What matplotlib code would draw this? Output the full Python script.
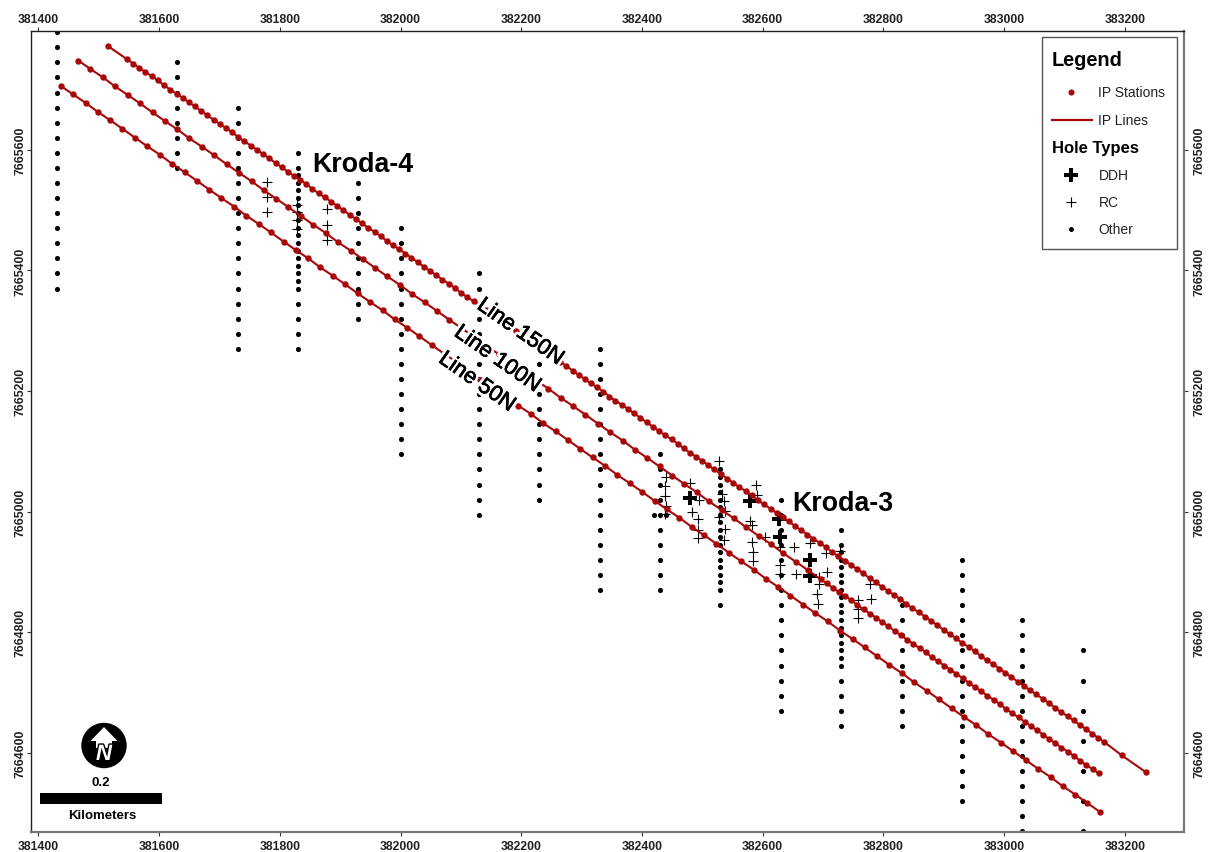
import matplotlib
matplotlib.use('Agg')
import matplotlib.pyplot as plt
import matplotlib.patheffects as pe
from matplotlib.lines import Line2D
from matplotlib.patches import Circle, Polygon, Rectangle
from matplotlib.transforms import Affine2D

plt.rcParams['font.family'] = ['Liberation Sans', 'DejaVu Sans']

x_ticks = [381400, 381600, 381800, 382000, 382200, 382400, 382600, 382800, 383000, 383200]
y_ticks = [7664600, 7664800, 7665000, 7665200, 7665400, 7665600]

# IP stations
line150_x = [381515,
             381547, 381557, 381567, 381577, 381588, 381598, 381608, 381618, 381629, 381639, 381649, 381659,
             381670, 381680, 381690, 381700, 381711, 381721, 381731, 381741, 381752, 381762, 381772, 381782,
             381793, 381803, 381813, 381823, 381834, 381844, 381854, 381864, 381875, 381885, 381895, 381905,
             381916, 381926, 381936, 381946, 381957, 381967, 381977, 381987, 381998, 382008, 382018, 382028,
             382039, 382049, 382059, 382069, 382080, 382090, 382100, 382110, 382121, 382131, 382141, 382151,
             382162, 382172, 382182, 382192, 382203, 382213, 382223, 382233, 382244, 382254, 382264, 382274,
             382285, 382295, 382305, 382315, 382326, 382336, 382346, 382356, 382367, 382377, 382387, 382397,
             382408, 382418, 382428, 382438, 382449, 382459, 382469, 382479, 382490, 382500, 382510, 382520,
             382531, 382541, 382551, 382561, 382572, 382582, 382592, 382602, 382613, 382623, 382633, 382643,
             382654, 382664, 382674, 382684, 382695, 382705, 382715, 382725, 382736, 382746, 382756, 382766,
             382777, 382787, 382797, 382807, 382818, 382828, 382838, 382848, 382859, 382869, 382879, 382889,
             382900, 382910, 382920, 382930, 382941, 382951, 382961, 382971, 382982, 382992, 383002, 383012,
             383023, 383033, 383043, 383053, 383064, 383074, 383084, 383094, 383105, 383115, 383125, 383135,
             383146, 383156, 383166, 383195, 383235]
line150_y = [7665772,
             7665750, 7665743, 7665736, 7665729, 7665722, 7665715, 7665707, 7665700, 7665693, 7665686, 7665679, 7665672,
             7665664, 7665657, 7665650, 7665643, 7665636, 7665629, 7665621, 7665614, 7665607, 7665600, 7665593, 7665586,
             7665578, 7665571, 7665564, 7665557, 7665550, 7665543, 7665535, 7665528, 7665521, 7665514, 7665507, 7665500,
             7665492, 7665485, 7665478, 7665471, 7665464, 7665457, 7665449, 7665442, 7665435, 7665428, 7665421, 7665414,
             7665406, 7665399, 7665392, 7665385, 7665378, 7665371, 7665363, 7665356, 7665349, 7665342, 7665335, 7665328,
             7665320, 7665313, 7665306, 7665299, 7665292, 7665285, 7665277, 7665270, 7665263, 7665256, 7665249, 7665242,
             7665234, 7665227, 7665220, 7665213, 7665206, 7665199, 7665191, 7665184, 7665177, 7665170, 7665163, 7665156,
             7665148, 7665141, 7665134, 7665127, 7665120, 7665113, 7665105, 7665098, 7665091, 7665084, 7665077, 7665070,
             7665062, 7665055, 7665048, 7665041, 7665034, 7665027, 7665019, 7665012, 7665005, 7664998, 7664991, 7664984,
             7664976, 7664969, 7664962, 7664955, 7664948, 7664941, 7664933, 7664926, 7664919, 7664912, 7664905, 7664898,
             7664890, 7664883, 7664876, 7664869, 7664862, 7664855, 7664847, 7664840, 7664833, 7664826, 7664819, 7664812,
             7664804, 7664797, 7664790, 7664783, 7664776, 7664769, 7664761, 7664754, 7664747, 7664740, 7664733, 7664726,
             7664718, 7664711, 7664704, 7664697, 7664690, 7664683, 7664675, 7664668, 7664661, 7664654, 7664647, 7664640,
             7664632, 7664625, 7664618, 7664596, 7664568]

line100_x = [381466, 381486, 381507, 381527, 381548, 381568, 381589, 381609, 381630, 381650, 381671, 381691,
             381712, 381732, 381753, 381773, 381794, 381814, 381835, 381855, 381876, 381896, 381917, 381937,
             381958, 381978, 381999, 382019, 382040, 382060, 382081, 382101, 382122, 382142, 382163, 382183,
             382204, 382224, 382245, 382265, 382286, 382306, 382327, 382347, 382368, 382388, 382409, 382429,
             382450, 382470, 382491, 382511, 382532, 382552, 382573, 382593, 382614, 382634, 382655, 382675,
             382696, 382706, 382716, 382726, 382737, 382747, 382757, 382767, 382778, 382788, 382798, 382808,
             382819, 382829, 382839, 382849, 382860, 382870, 382880, 382890, 382901, 382911, 382921, 382931,
             382942, 382952, 382962, 382972, 382983, 382993, 383003, 383013, 383024, 383034, 383044, 383054,
             383065, 383075, 383085, 383095, 383106, 383116, 383126, 383136, 383147, 383157]
line100_y = [7665748, 7665734, 7665720, 7665705, 7665691, 7665677, 7665662, 7665648, 7665634, 7665619, 7665605, 7665591,
             7665576, 7665562, 7665548, 7665533, 7665519, 7665505, 7665490, 7665476, 7665462, 7665447, 7665433, 7665419,
             7665404, 7665390, 7665376, 7665361, 7665347, 7665333, 7665318, 7665304, 7665290, 7665275, 7665261, 7665247,
             7665232, 7665218, 7665204, 7665189, 7665175, 7665161, 7665146, 7665132, 7665118, 7665103, 7665089, 7665075,
             7665060, 7665046, 7665032, 7665017, 7665003, 7664989, 7664974, 7664960, 7664946, 7664931, 7664917, 7664903,
             7664888, 7664881, 7664874, 7664867, 7664860, 7664853, 7664845, 7664838, 7664831, 7664824, 7664817, 7664810,
             7664802, 7664795, 7664788, 7664781, 7664774, 7664767, 7664759, 7664752, 7664745, 7664738, 7664731, 7664724,
             7664716, 7664709, 7664702, 7664695, 7664688, 7664681, 7664673, 7664666, 7664659, 7664652, 7664645, 7664638,
             7664630, 7664623, 7664616, 7664609, 7664602, 7664595, 7664587, 7664580, 7664573, 7664566]

line50_x = [381437, 381457, 381478, 381498, 381519, 381539, 381560, 381580, 381601, 381621, 381642, 381662,
            381683, 381703, 381724, 381744, 381765, 381785, 381806, 381826, 381847, 381867, 381888, 381908,
            381929, 381949, 381970, 381990, 382011, 382031, 382052, 382072, 382093, 382113, 382134, 382154,
            382175, 382195, 382216, 382236, 382257, 382277, 382298, 382318, 382339, 382359, 382380, 382400,
            382421, 382441, 382462, 382482, 382503, 382523, 382544, 382564, 382585, 382605, 382626, 382646,
            382667, 382687, 382708, 382728, 382749, 382769, 382790, 382810, 382831, 382851, 382872, 382892,
            382913, 382933, 382954, 382974, 382995, 383015, 383036, 383056, 383077, 383097, 383118, 383138,
            383159]
line50_y = [7665706, 7665692, 7665678, 7665663, 7665649, 7665635, 7665620, 7665606, 7665592, 7665577, 7665563, 7665549,
            7665534, 7665520, 7665506, 7665491, 7665477, 7665463, 7665448, 7665434, 7665420, 7665405, 7665391, 7665377,
            7665362, 7665348, 7665334, 7665319, 7665305, 7665291, 7665276, 7665262, 7665248, 7665233, 7665219, 7665205,
            7665190, 7665176, 7665162, 7665147, 7665133, 7665119, 7665104, 7665090, 7665076, 7665061, 7665047, 7665033,
            7665018, 7665004, 7664990, 7664975, 7664961, 7664947, 7664932, 7664918, 7664904, 7664889, 7664875, 7664861,
            7664846, 7664832, 7664818, 7664803, 7664789, 7664775, 7664760, 7664746, 7664732, 7664717, 7664703, 7664689,
            7664674, 7664660, 7664646, 7664631, 7664617, 7664603, 7664588, 7664574, 7664560, 7664545, 7664531, 7664517,
            7664502]

# "Other" holes, one northing list per drill section
other_sections = [381430, 381630, 381730, 381830, 381930, 382000, 382130, 382230, 382330,
                  382430, 382530, 382630, 382730, 382830, 382930, 383030, 383130]
other_northings = [
    [7665795, 7665770, 7665745, 7665720, 7665695, 7665670, 7665645, 7665620, 7665595, 7665570, 7665545, 7665520,
     7665495, 7665470, 7665445, 7665420, 7665395, 7665370],
    [7665745, 7665720, 7665695, 7665670, 7665645, 7665620, 7665595, 7665570],
    [7665670, 7665645, 7665620, 7665595, 7665570, 7665545, 7665520, 7665495, 7665470, 7665445, 7665420, 7665395,
     7665370, 7665345, 7665320, 7665295, 7665270],
    [7665595, 7665570, 7665558, 7665545, 7665533, 7665520, 7665508, 7665495, 7665483, 7665470, 7665458, 7665445,
     7665433, 7665420, 7665408, 7665395, 7665383, 7665370, 7665345, 7665320, 7665295, 7665270],
    [7665545, 7665520, 7665495, 7665470, 7665445, 7665420, 7665395, 7665370, 7665345, 7665320],
    [7665470, 7665445, 7665420, 7665395, 7665370, 7665345, 7665320, 7665295, 7665270, 7665245, 7665220, 7665195,
     7665170, 7665145, 7665120, 7665095],
    [7665395, 7665370, 7665345, 7665320, 7665295, 7665270, 7665245, 7665220, 7665195, 7665170, 7665145, 7665120,
     7665095, 7665070, 7665045, 7665020, 7664995],
    [7665245, 7665220, 7665195, 7665170, 7665145, 7665120, 7665095, 7665070, 7665045, 7665020],
    [7665270, 7665245, 7665220, 7665195, 7665170, 7665145, 7665120, 7665095, 7665070, 7665045, 7665020, 7664995,
     7664970, 7664945, 7664920, 7664895, 7664870],
    [7665095, 7665070, 7665045, 7665020, 7664995, 7664970, 7664945, 7664920, 7664895, 7664870],
    [7665070, 7665058, 7665045, 7665033, 7665020, 7665008, 7664995, 7664983, 7664970, 7664958, 7664945, 7664933,
     7664920, 7664908, 7664895, 7664883, 7664870, 7664845],
    [7665020, 7664995, 7664970, 7664945, 7664920, 7664895, 7664870, 7664845, 7664820, 7664795, 7664770, 7664745,
     7664720, 7664695, 7664670],
    [7664970, 7664945, 7664933, 7664920, 7664908, 7664895, 7664883, 7664870, 7664858, 7664845, 7664833, 7664820,
     7664808, 7664795, 7664783, 7664770, 7664758, 7664745, 7664720, 7664695, 7664670, 7664645],
    [7664845, 7664820, 7664795, 7664770, 7664745, 7664720, 7664695, 7664670, 7664645],
    [7664920, 7664895, 7664870, 7664845, 7664820, 7664795, 7664770, 7664745, 7664720, 7664695, 7664670, 7664645,
     7664620, 7664595, 7664570, 7664545, 7664520],
    [7664820, 7664795, 7664770, 7664745, 7664720, 7664695, 7664670, 7664645, 7664620, 7664595, 7664570, 7664545,
     7664520, 7664495, 7664470],
    [7664770, 7664720, 7664670, 7664620, 7664570, 7664520, 7664470],
]
other_extra_x = [382420, 382440]
other_extra_y = [7664995, 7664995]

rc_x = [381778, 381778, 381778, 381878, 381878, 381878, 381828, 381828, 381828, 381828,
        382439, 382438, 382438, 382439, 382438, 382479, 382494, 382483, 382493, 382493, 382493,
        382528, 382532, 382536, 382537, 382528, 382537, 382536,
        382589, 382590, 382579, 382583, 382604, 382582, 382584, 382584,
        382652, 382679, 382705, 382707, 382655, 382628, 382628, 382628,
        382694, 382694, 382690, 382692, 382728, 382778, 382779, 382758, 382758, 382758]
rc_y = [7665546, 7665522, 7665497, 7665502, 7665476, 7665451, 7665509, 7665497, 7665484, 7665469,
        7665057, 7665042, 7665026, 7665009, 7664996, 7665048, 7665020, 7664999, 7664988, 7664970, 7664957,
        7665084, 7665029, 7665017, 7665002, 7664991, 7664971, 7664953,
        7665044, 7665028, 7664985, 7664978, 7664958, 7664949, 7664933, 7664918,
        7664941, 7664948, 7664932, 7664900, 7664896, 7664941, 7664911, 7664896,
        7664891, 7664880, 7664864, 7664847, 7664935, 7664880, 7664855, 7664854, 7664839, 7664823]

ddh_x = [382479, 382579, 382627, 382628, 382678, 382678]
ddh_y = [7665022, 7665017, 7664988, 7664958, 7664920, 7664894]

red = '#a80808'

fig = plt.figure(figsize=(12.08, 8.53), dpi=100)
ax = fig.add_axes([31 / 1208, 20 / 853, 1153 / 1208, 801 / 853])

for sx, ys in zip(other_sections, other_northings):
    ax.plot([sx] * len(ys), ys, 'o', color='black', ms=3.7, mew=0, zorder=2)
ax.plot(other_extra_x, other_extra_y, 'o', color='black', ms=3.7, mew=0, zorder=2)
ax.plot(rc_x, rc_y, '+', color='black', ms=7, mew=0.8, zorder=3)
ax.plot(ddh_x, ddh_y, 'P', color='black', ms=10, mew=0, zorder=3)

for lx, ly in [(line150_x, line150_y), (line100_x, line100_y), (line50_x, line50_y)]:
    ax.plot(lx, ly, '-', color=red, lw=1.5, zorder=4)
    ax.plot(lx, ly, 'o', color=red, ms=4.6, mew=0, zorder=4)

ax.set_xlim(381387.6, 383298)
ax.set_ylim(7664469, 7665797)

# white halo knocks the line out under the labels, thin black stroke for the heavier look
halo = [pe.withStroke(linewidth=4.5, foreground='white'),
        pe.withStroke(linewidth=0.5, foreground='black')]
ax.text(382198, 7665298, 'Line 150N', fontsize=15.8, rotation=-35, rotation_mode='anchor',
        ha='center', va='center', zorder=6, path_effects=halo)
ax.text(382160, 7665253, 'Line 100N', fontsize=15.8, rotation=-35, rotation_mode='anchor',
        ha='center', va='center', zorder=6, path_effects=halo)
ax.text(382126, 7665215, 'Line 50N', fontsize=15.8, rotation=-35, rotation_mode='anchor',
        ha='center', va='center', zorder=6, path_effects=halo)
ax.text(381938, 7665577, 'Kroda-4', fontsize=19.3, fontweight='bold', ha='center', va='center', zorder=6)
ax.text(382733, 7665015, 'Kroda-3', fontsize=19.3, fontweight='bold', ha='center', va='center', zorder=6)

ax.set_xticks(x_ticks)
ax.set_xticklabels([str(t) for t in x_ticks], fontsize=8.8, fontweight='bold', color='#222222')
ax.set_yticks(y_ticks)
ax.set_yticklabels([str(t) for t in y_ticks], fontsize=8.8, fontweight='bold', color='#222222',
                   rotation=90, va='center')
ax.tick_params(top=True, right=True, labeltop=True, labelright=True, length=3, width=0.8, pad=3, color='#333333')
ax.tick_params(axis='x', which='major', labeltop=True)
nudge = fig.dpi_scale_trans
for t in ax.xaxis.get_major_ticks():
    t.label2.set_transform(t.label2.get_transform() + Affine2D().translate(0, -2.5))
for t in ax.yaxis.get_major_ticks():
    t.label1.set_rotation(90)
    t.label2.set_rotation(90)
    t.label1.set_transform(t.label1.get_transform() + Affine2D().translate(3.5, 0))
    t.label2.set_transform(t.label2.get_transform() + Affine2D().translate(1, 0))

ax.spines['top'].set_color('#222222')
ax.spines['left'].set_color('#222222')
ax.spines['right'].set_color('#777777')
ax.spines['bottom'].set_color('#777777')
ax.spines['top'].set_linewidth(1.0)
ax.spines['left'].set_linewidth(1.0)
ax.spines['right'].set_linewidth(1.6)
ax.spines['bottom'].set_linewidth(1.6)

# overlays are placed in image pixels
px = Affine2D().scale(1 / 1208, -1 / 853).translate(0, 1) + fig.transFigure

# legend box
fig.add_artist(Rectangle((1041.5, 38), 135.5, 212, transform=px, fc='white', ec='#555555', lw=1.0, zorder=10))
legend_kw = dict(transform=px, va='center', ha='left', zorder=11)
fig.text(1052, 60, 'Legend', fontsize=14.3, fontweight='bold', **legend_kw)
fig.text(1052, 148, 'Hole Types', fontsize=12, fontweight='bold', **legend_kw)
for txt, ty in [('IP Stations', 93), ('IP Lines', 121), ('DDH', 175.5), ('RC', 203), ('Other', 230)]:
    fig.text(1098.5, ty, txt, fontsize=10, color='#222222', **legend_kw)
fig.add_artist(Line2D([1071], [93], transform=px, marker='o', color=red, ms=4.4, mew=0, zorder=11))
fig.add_artist(Line2D([1052, 1092], [121, 121], transform=px, color=red, lw=1.6, zorder=11))
fig.add_artist(Line2D([1071], [175.5], transform=px, marker='P', color='black', ms=10, mew=0, zorder=11))
fig.add_artist(Line2D([1071], [203], transform=px, marker='+', color='black', ms=7, mew=0.8, zorder=11))
fig.add_artist(Line2D([1071], [230], transform=px, marker='o', color='black', ms=3.6, mew=0, zorder=11))

# north arrow and scale bar
fig.add_artist(Circle((104, 746.5), 22.7, transform=px, fc='black', ec='none', zorder=10))
fig.add_artist(Polygon([(104, 728), (117.5, 742), (112, 742), (112, 749), (96, 749), (96, 742), (90.5, 742)],
                       closed=True, transform=px, fc='white', ec='none', zorder=11))
fig.text(104, 755.5, 'N', transform=px, fontsize=16, fontweight='bold', fontstyle='italic', color='white',
         ha='center', va='center', zorder=12,
         path_effects=[pe.withStroke(linewidth=2, foreground='black')])
fig.add_artist(Rectangle((40, 794), 122, 11.5, transform=px, fc='black', ec='none', zorder=10))
fig.text(101, 783, '0.2', transform=px, fontsize=9.5, fontweight='bold', ha='center', va='center', zorder=11)
fig.text(102.5, 816.5, 'Kilometers', transform=px, fontsize=9.5, fontweight='bold', ha='center', va='center', zorder=11)

fig.savefig('out.png', dpi=100)
